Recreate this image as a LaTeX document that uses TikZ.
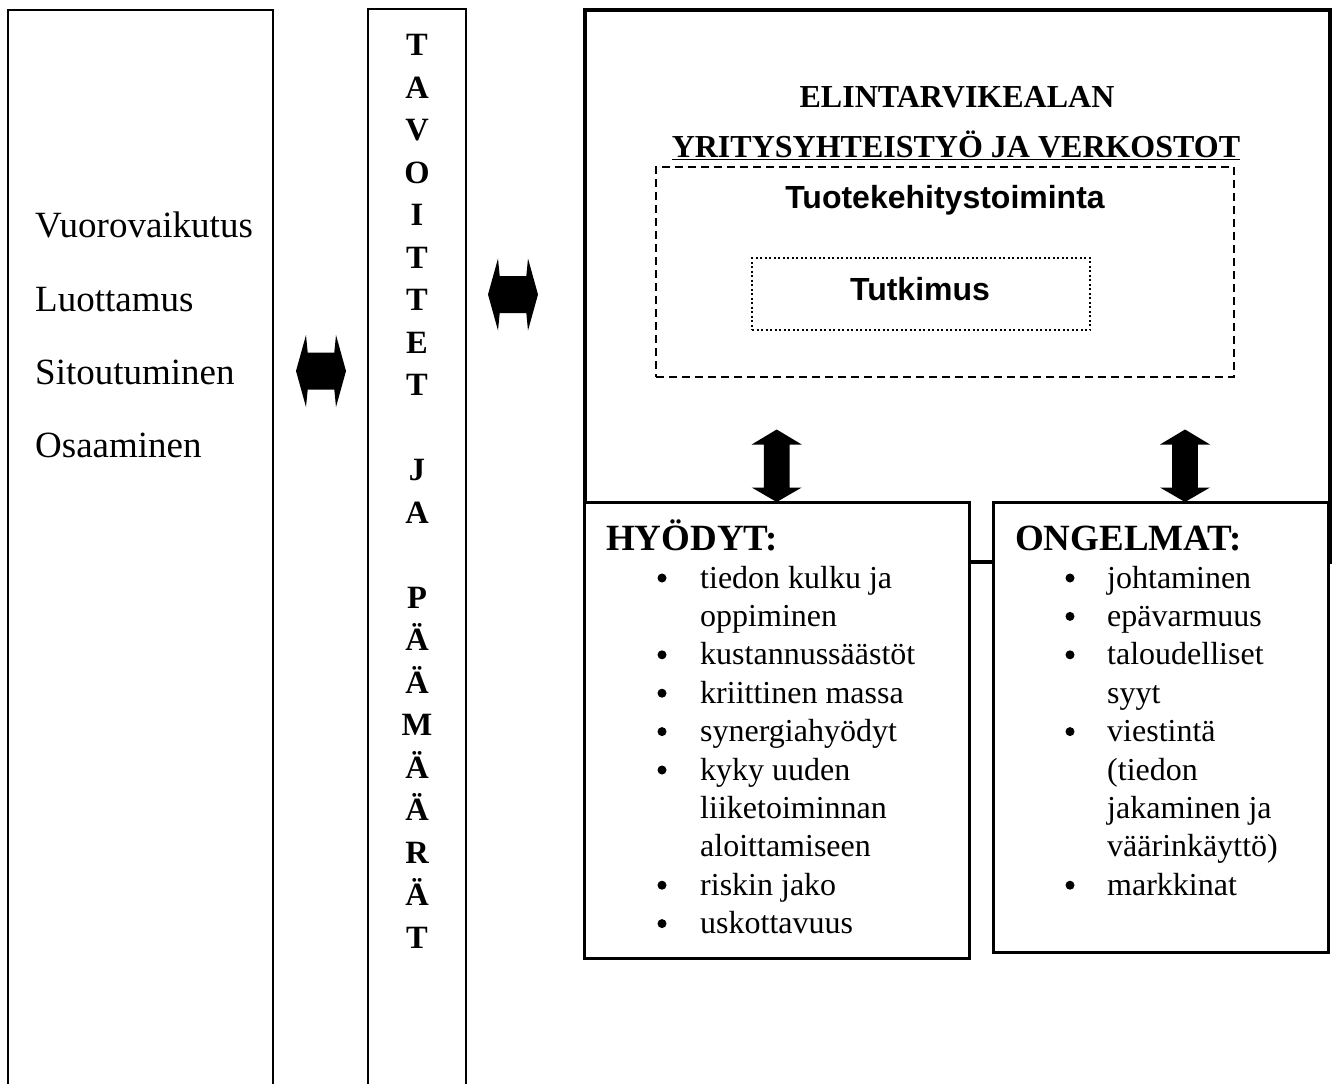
\documentclass[tikz,border=0pt]{standalone}
\usepackage{fontspec}
\setmainfont{Liberation Serif}
\newfontfamily\arialfont{Liberation Sans}
\begin{document}
\begin{tikzpicture}[x=1pt,y=-1pt,
  colbox/.style={draw=black,line width=2.7pt,inner sep=0pt,outer sep=0pt,anchor=north west},
  bigbox/.style={draw=black,line width=4pt,inner sep=0pt,outer sep=0pt,anchor=north west},
  lowbox/.style={draw=black,fill=white,line width=3pt,inner sep=0pt,outer sep=0pt,anchor=north west},
  dashbox/.style={draw=black,line width=2.5pt,dash pattern=on 8pt off 5pt,inner sep=0pt,outer sep=0pt,anchor=north west},
  dotbox/.style={draw=black,line width=2pt,dash pattern=on 2pt off 2.5pt,inner sep=0pt,outer sep=0pt,anchor=north west},
  lefttxt/.style={font=\fontsize{37}{40}\selectfont,anchor=base west,inner sep=0pt},
  vletter/.style={font=\fontsize{32.5}{36}\selectfont\bfseries,anchor=base,inner sep=0pt},
  title/.style={font=\fontsize{32}{36}\selectfont\bfseries,anchor=base,inner sep=0pt},
  sanstitle/.style={font=\fontsize{32}{36}\selectfont\arialfont\bfseries,anchor=base,inner sep=0pt},
  head/.style={font=\fontsize{37}{40}\selectfont\bfseries,anchor=base west,inner sep=0pt},
  item/.style={font=\fontsize{32}{38}\selectfont,anchor=base west,inner sep=0pt},
  bul/.style={circle,fill=black,inner sep=0pt,minimum size=9pt},
  hdarrow/.pic={\fill[black] (-25,0) -- (-15,-36) -- (-13.3,-18.5) -- (13.3,-18.5) -- (15,-36) -- (25,0)
      -- (15,36) -- (13.3,18.5) -- (-13.3,18.5) -- (-15,36) -- cycle;},
  vdarrow/.pic={\fill[black] (0,-36.25) -- (25,-21.25) -- (12.8,-21.25) -- (12.8,21.75) -- (25,21.75)
      -- (0,36.25) -- (-25,21.75) -- (-12.8,21.75) -- (-12.8,-21.25) -- (-25,-21.25) -- cycle;}
]
\useasboundingbox (0,0) rectangle (1336,1084);
\fill[white] (0,0) rectangle (1336,1084);
\clip (0,0) rectangle (1336,1084);

% left column boxes (open at the bottom of the page)
\node[colbox,minimum width=265pt,minimum height=1100pt] (leftcol) at (8,10) {};
\node[colbox,minimum width=98pt,minimum height=1100pt] (midcol) at (368,9) {};

% left texts
\node[lefttxt] (t1) at (35,237) {Vuorovaikutus};
\node[lefttxt] (t2) at (35,311) {Luottamus};
\node[lefttxt] (t3) at (35,384) {Sitoutuminen};
\node[lefttxt] (t4) at (35,457) {Osaaminen};

% vertical letters
\foreach \ch/\k [count=\i] in {T/0,A/1,V/2,O/3,I/4,T/5,T/6,E/7,T/8,J/10,A/11,P/13,Ä/14,Ä/15,M/16,Ä/17,Ä/18,R/19,Ä/20,T/21}
  \node[vletter] (v\i) at (417,{55.5+42.5*\k}) {\ch};

% horizontal double arrows
\coordinate (ha1) at (321,371);
\coordinate (ha2) at (513,294.5);
\pic at (ha1) {hdarrow};
\pic at (ha2) {hdarrow};

% big box
\node[bigbox,minimum width=745pt,minimum height=552pt] (big) at (585,10) {};
\node[title] (el1) at (957,107) {ELINTARVIKEALAN};
\node[title] (el2) at (956,157) {\underline{YRITYSYHTEISTYÖ JA VERKOSTOT}};
\node[dashbox,minimum width=578pt,minimum height=210pt] (tk) at (656,167) {};
\node[sanstitle] (tkt) at (945,208) {Tuotekehitystoiminta};
\node[dotbox,minimum width=338pt,minimum height=72pt] (tu) at (752,258) {};
\node[sanstitle] (tut) at (920,300) {Tutkimus};

% lower boxes
\node[lowbox,minimum width=385pt,minimum height=456pt] (hy) at (584,502) {};
\node[lowbox,minimum width=335pt,minimum height=450pt] (on) at (993,502) {};

% vertical double arrows
\coordinate (va1) at (776.7,465.75);
\coordinate (va2) at (1185,465.75);
\pic at (va1) {vdarrow};
\pic at (va2) {vdarrow};

% headings
\node[head] (hyh) at (606,550) {HYÖDYT:};
\node[head] (onh) at (1015,550) {ONGELMAT:};

% HYÖDYT items
\foreach \r/\b/\t [count=\i] in {0/1/tiedon kulku ja,1/0/oppiminen,2/1/kustannussäästöt,3/1/kriittinen massa,
    4/1/synergiahyödyt,5/1/kyky uuden,6/0/liiketoiminnan,7/0/aloittamiseen,8/1/riskin jako,9/1/uskottavuus}{
  \node[item] (hyi\i) at (700,{588+38.4*\r}) {\t};
  \ifnum\b=1 \node[bul] (hyb\i) at (662,{578+38.4*\r}) {};\fi
}

% ONGELMAT items
\foreach \r/\b/\t [count=\i] in {0/1/johtaminen,1/1/epävarmuus,2/1/taloudelliset,3/0/syyt,4/1/viestintä,
    5/0/(tiedon,6/0/jakaminen ja,7/0/väärinkäyttö),8/1/markkinat}{
  \node[item] (oni\i) at (1107,{588+38.4*\r}) {\t};
  \ifnum\b=1 \node[bul] (onb\i) at (1070,{578+38.4*\r}) {};\fi
}
\end{tikzpicture}
\end{document}
